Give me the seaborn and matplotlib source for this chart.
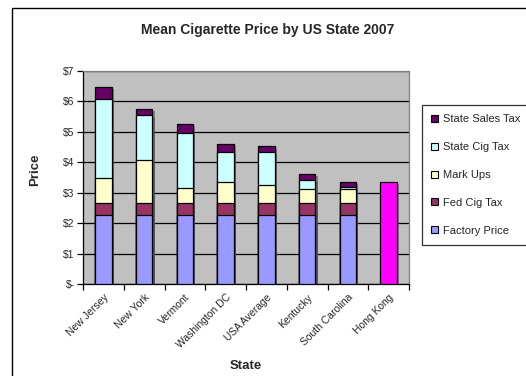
import matplotlib
matplotlib.use("Agg")
import matplotlib.pyplot as plt
import matplotlib.patheffects as pe
from matplotlib.patches import Rectangle, Patch
import numpy as np
import pandas as pd
import seaborn as sns

# Price components per state (USD per pack)
states = ["New Jersey", "New York", "Vermont", "Washington DC", "USA Average",
          "Kentucky", "South Carolina", "Hong Kong"]
factory_price = [2.27, 2.27, 2.27, 2.27, 2.27, 2.27, 2.27, np.nan]
fed_cig_tax = [0.39, 0.39, 0.39, 0.39, 0.39, 0.39, 0.39, np.nan]
mark_ups = [0.84, 1.40, 0.51, 0.69, 0.59, 0.47, 0.46, np.nan]
state_cig_tax = [2.58, 1.48, 1.79, 0.99, 1.09, 0.28, 0.07, np.nan]
state_sales_tax = [0.40, 0.22, 0.30, 0.27, 0.21, 0.22, 0.15, np.nan]
hong_kong = [np.nan] * 7 + [3.34]

series_names = ["Factory Price", "Fed Cig Tax", "Mark Ups", "State Cig Tax", "State Sales Tax"]
series_vals = [factory_price, fed_cig_tax, mark_ups, state_cig_tax, state_sales_tax]
colors = ["#9999FF", "#993366", "#FFFFCC", "#CCFFFF", "#660066"]
hk_color = "#FF00FF"
y_ticks = [0, 1, 2, 3, 4, 5, 6, 7]
y_labels = ["$-", "$1", "$2", "$3", "$4", "$5", "$6", "$7"]

sns.set_theme(style="white")
plt.rcParams["font.family"] = ["Liberation Sans", "DejaVu Sans"]

fig = plt.figure(figsize=(5.26, 3.76), dpi=100)
fig.patch.set_facecolor("white")
ax = fig.add_axes([83 / 526, 1 - 284 / 376, 326 / 526, 213 / 376])
ax.set_facecolor("#C0C0C0")

# Cumulative totals, drawn from the top layer down so each layer overlays the next
cum = np.nancumsum(np.array(series_vals, dtype=float), axis=0)
shadow = [pe.SimplePatchShadow(offset=(1.5, -1.5), shadow_rgbFace="#555555", alpha=0.6), pe.Normal()]

for name, color, idx in reversed(list(zip(series_names, colors, range(len(series_names))))):
    vals = np.where(np.isnan(series_vals[0]), np.nan, cum[idx])
    df = pd.DataFrame({"State": states, "Price": vals})
    sns.barplot(data=df, x="State", y="Price", order=states, color=color,
                saturation=1, width=0.41, edgecolor="black", linewidth=0.9,
                errorbar=None, ax=ax, zorder=3)

df_hk = pd.DataFrame({"State": states, "Price": hong_kong})
sns.barplot(data=df_hk, x="State", y="Price", order=states, color=hk_color,
            saturation=1, width=0.41, edgecolor="black", linewidth=0.9,
            errorbar=None, ax=ax, zorder=3)

for p in ax.patches:
    p.set_path_effects(shadow)

ax.set_ylim(0, 7)
ax.set_xlim(-0.5, len(states) - 0.5)
ax.set_yticks(y_ticks)
ax.set_yticklabels(y_labels, fontsize=7.5)
ax.yaxis.grid(True, color="black", linewidth=0.9, zorder=1)
ax.set_axisbelow(True)

# Category labels at bar centres, tick marks at category boundaries
ax.set_xticks(range(len(states)))
ax.set_xticklabels(states, rotation=45, ha="right", rotation_mode="anchor", fontsize=7.5)
ax.set_xticks(np.arange(-0.5, len(states)), minor=True)
ax.tick_params(axis="x", which="major", length=0, pad=6)
ax.tick_params(axis="x", which="minor", length=4, width=0.9, color="black", direction="out", bottom=True)
ax.tick_params(axis="y", length=4, width=0.9, color="black", direction="out", left=True, pad=2)

for side in ["left", "bottom"]:
    ax.spines[side].set_color("black")
    ax.spines[side].set_linewidth(0.9)
for side in ["top", "right"]:
    ax.spines[side].set_color("#808080")
    ax.spines[side].set_linewidth(0.9)

ax.set_xlabel("")
ax.set_ylabel("")
fig.text(268 / 526, 1 - 30 / 376, "Mean Cigarette Price by US State 2007",
         ha="center", va="center", fontsize=10, fontweight="bold")
fig.text(35 / 526, 1 - 170 / 376, "Price", ha="center", va="center",
         rotation=90, fontsize=9.5, fontweight="bold")
fig.text(246 / 526, 1 - 366 / 376, "State", ha="center", va="center",
         fontsize=9.5, fontweight="bold")

handles = [Patch(facecolor=c, edgecolor="black", linewidth=0.8, label=n)
           for n, c in zip(series_names, colors)][::-1]
leg = fig.legend(handles=handles, loc="upper left",
                 bbox_to_anchor=(422 / 526, 1 - 105 / 376), fontsize=8,
                 frameon=True, fancybox=False, shadow=False, labelspacing=1.6,
                 handlelength=0.6, handleheight=0.6, handletextpad=0.45,
                 borderpad=0.85, borderaxespad=0)
leg.get_frame().set_edgecolor("black")
leg.get_frame().set_linewidth(0.9)

# Chart-area border (extends beyond the right and bottom edges)
fig.patches.append(Rectangle((12 / 526, -0.1), 1.2, 1 - 7.5 / 376 + 0.1,
                             transform=fig.transFigure, fill=False,
                             edgecolor="black", linewidth=1.0))

fig.savefig("out.png", dpi=100)
